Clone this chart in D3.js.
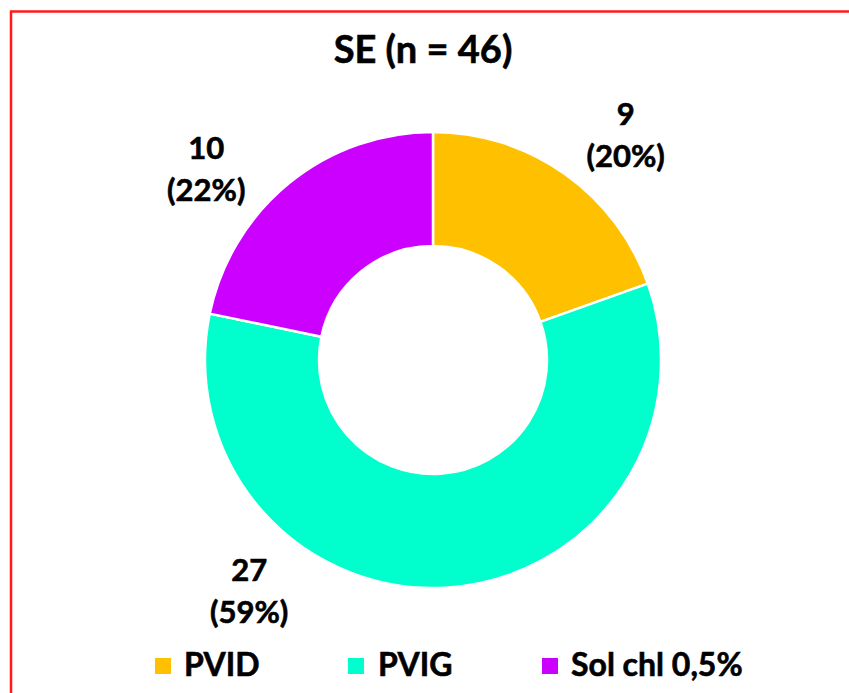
<!DOCTYPE html>
<html>
<head>
<meta charset="utf-8">
<script src="https://cdn.jsdelivr.net/npm/d3@7"></script>
<style>
  html, body { margin: 0; padding: 0; background: #fff; }
  svg { display: block; font-family: Lato, "Open Sans", sans-serif; font-weight: bold; }
</style>
</head>
<body>
<div id="chart"></div>
<script>
// data
const categories = ["PVID", "PVIG", "Sol chl 0,5%"];
const counts = [9, 27, 10];
const percents = ["20%", "59%", "22%"];
const colors = ["#FFC000", "#00FFCC", "#CC00FF"];
const titleText = "SE (n = 46)";

// layout
const W = 849, H = 693;
const cx = 433, cy = 360;
const outerR = 228, innerR = 114;
const labelR = 296;
const labelAngles = [40.6, 218.4, 310]; // degrees, clockwise from top
const legendX = [155, 348, 542];

const svg = d3.select("#chart").append("svg")
  .attr("width", W)
  .attr("height", H);

// red frame (runs off the right and bottom edge)
svg.append("rect")
  .attr("x", 11)
  .attr("y", 11.5)
  .attr("width", W + 20)
  .attr("height", H + 20)
  .attr("fill", "none")
  .attr("stroke", "#ff1a1a")
  .attr("stroke-width", 2.5);

svg.append("text")
  .attr("x", cx - 10)
  .attr("y", 63)
  .attr("text-anchor", "middle")
  .attr("font-size", 38)
  .attr("fill", "#000")
  .attr("stroke", "#000")
  .attr("stroke-width", 0.6)
  .text(titleText);

const pie = d3.pie().sort(null).value(d => d);
const arc = d3.arc().innerRadius(innerR).outerRadius(outerR);

const g = svg.append("g").attr("transform", `translate(${cx},${cy})`);

g.selectAll("path.slice")
  .data(pie(counts))
  .join("path")
  .attr("class", "slice")
  .attr("d", arc)
  .attr("fill", (d, i) => colors[i])
  .attr("stroke", "#fff")
  .attr("stroke-width", 2.5)
  .attr("stroke-linejoin", "round");

// data labels
const labels = g.selectAll("text.lbl")
  .data(counts)
  .join("text")
  .attr("class", "lbl")
  .attr("text-anchor", "middle")
  .attr("font-size", 31)
  .attr("fill", "#000")
  .attr("stroke", "#000")
  .attr("stroke-width", 0.6)
  .attr("transform", (d, i) => {
    const a = labelAngles[i] * Math.PI / 180;
    return `translate(${labelR * Math.sin(a)},${-labelR * Math.cos(a)})`;
  });

labels.append("tspan")
  .attr("x", 0)
  .attr("y", -10.5)
  .text(d => d);

labels.append("tspan")
  .attr("x", 0)
  .attr("y", 31.5)
  .text((d, i) => `(${percents[i]})`);

// legend
const legend = svg.append("g");
const items = legend.selectAll("g")
  .data(categories)
  .join("g")
  .attr("transform", (d, i) => `translate(${legendX[i]},0)`);

items.append("rect")
  .attr("x", 0)
  .attr("y", 658)
  .attr("width", 16)
  .attr("height", 16)
  .attr("fill", (d, i) => colors[i]);

items.append("text")
  .attr("x", (d, i) => i === 1 ? 30 : 29)
  .attr("y", 676)
  .attr("font-size", 32)
  .attr("fill", "#000")
  .attr("stroke", "#000")
  .attr("stroke-width", 0.6)
  .text(d => d);
</script>
</body>
</html>
